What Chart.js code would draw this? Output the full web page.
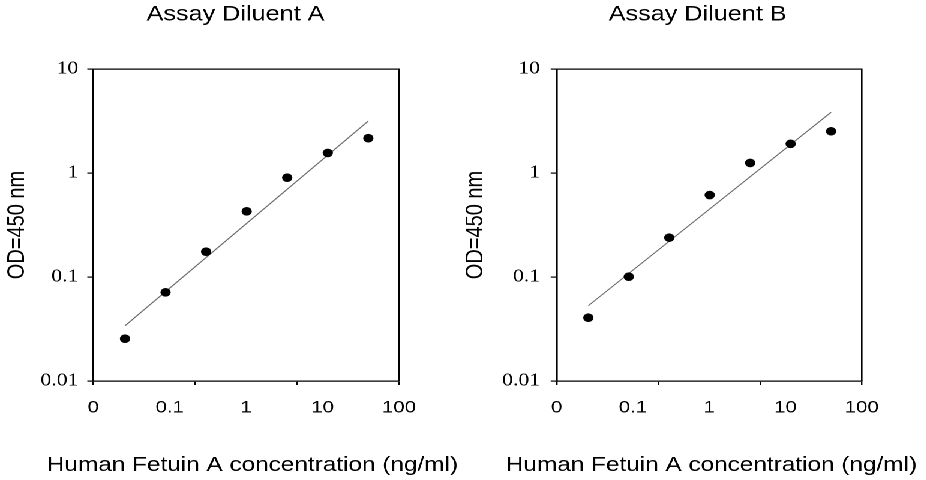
<!DOCTYPE html>
<html><head><meta charset="utf-8">
<script src="https://cdn.jsdelivr.net/npm/chart.js@4.4.1/dist/chart.umd.min.js"></script>
<style>
html,body{margin:0;padding:0;background:#fff;overflow:hidden;width:926px;height:480px;}
#wrap{position:absolute;left:0;top:0;width:772px;height:480px;transform:scaleX(1.2);transform-origin:0 0;}
canvas{position:absolute;top:0;}
</style></head><body>
<div id="wrap">
<canvas id="chartA" width="393" height="480" style="left:0;width:393px;height:480px"></canvas>
<canvas id="chartB" width="403" height="480" style="left:380px;width:403px;height:480px"></canvas>
</div>
<script>
const titles = ['Assay Diluent A', 'Assay Diluent B'];
const xAxisTitle = 'Human Fetuin A concentration (ng/ml)';
const yAxisTitle = 'OD=450 nm';
const concentrations = [0.2048, 0.512, 1.28, 3.2, 8, 20, 50];
const odDiluentA = [0.0255, 0.0713, 0.175, 0.428, 0.902, 1.56, 2.16];
const odDiluentB = [0.0406, 0.1007, 0.239, 0.614, 1.25, 1.91, 2.52];
const fitConc = [0.2048, 50];
const fitDiluentA = [0.034, 3.16];
const fitDiluentB = [0.053, 3.84];
const yTickValues = [0.01, 0.1, 1, 10];
const yTickLabels = ['0.01', '0.1', '1', '10'];
const xTickValues = [0.1, 1, 10, 100];
const xLabelValues = [0.01, 0.1, 1, 10, 100];
const xTickLabels = ['0', '0.1', '1', '10', '100'];

const SANS = '"Liberation Sans", Arial, sans-serif';
const SERIF = '"Liberation Serif", "Times New Roman", serif';
Chart.defaults.color = '#000';

function makeChart(id, title, od, fit, lay) {
  const pts = concentrations.map((c, i) => ({x: c, y: od[i]}));
  const line = fitConc.map((c, i) => ({x: c, y: fit[i]}));
  const axisBorder = {display: true, color: '#000', width: 1.3};
  return new Chart(document.getElementById(id), {
    type: 'scatter',
    data: {datasets: [
      {data: pts, pointBackgroundColor: '#000', pointBorderColor: '#000', pointBorderWidth: 0, pointRadius: 4.3, pointHoverRadius: 4.3, order: 1},
      {data: line, showLine: true, borderColor: '#6b6b6b', borderWidth: 1, pointRadius: 0, pointHoverRadius: 0, order: 2}
    ]},
    options: {
      responsive: false, animation: false, devicePixelRatio: 2,
      layout: {padding: {left: lay.padL, right: lay.padR, top: 0, bottom: 0}},
      events: [],
      plugins: {
        legend: {display: false},
        tooltip: {enabled: false},
        title: {display: true, text: title, color: '#000', align: 'center',
          font: {family: SANS, size: 21, weight: 'normal', lineHeight: 1.2},
          padding: {top: 2.1, bottom: 41.7}},
        subtitle: {display: true, position: 'bottom', align: 'end', text: xAxisTitle, color: '#000',
          font: {family: SANS, size: 20.3, weight: 'normal', lineHeight: 1.2},
          padding: {top: 0, bottom: 2.3}}
      },
      scales: {
        x: {type: 'logarithmic', position: 'bottom', min: 0.1, max: 100, weight: 0,
          afterBuildTicks: s => { s.ticks = xTickValues.map(v => ({value: v})); },
          afterFit: s => { s.height = 0; },
          ticks: {display: false},
          grid: {display: true, drawOnChartArea: false, drawTicks: true, tickLength: 4, color: '#000', lineWidth: 1.2},
          border: axisBorder},
        xl: {type: 'logarithmic', position: 'bottom', min: 0.01, max: 100, weight: 1,
          afterBuildTicks: s => { s.ticks = xLabelValues.map(v => ({value: v})); },
          afterFit: s => { s.height = 72.34; },
          ticks: {display: true, autoSkip: false, maxRotation: 0, minRotation: 0, padding: 16.8,
            color: '#000', font: {family: SANS, size: 17},
            callback: (v, i) => xTickLabels[i]},
          grid: {display: false, drawTicks: false},
          border: {display: false}},
        xt: {type: 'linear', position: 'top', min: 0, max: 1,
          afterFit: s => { s.height = 0; },
          ticks: {display: false}, grid: {display: false, drawTicks: false}, border: axisBorder},
        y: {type: 'logarithmic', position: 'left', min: 0.01, max: 10,
          afterBuildTicks: s => { s.ticks = yTickValues.map(v => ({value: v})); },
          afterFit: s => { s.width = lay.yWidth; },
          ticks: {padding: lay.yPad, color: '#000', font: {family: SERIF, size: 18},
            callback: (v, i) => yTickLabels[i]},
          grid: {display: true, drawOnChartArea: false, drawTicks: true, tickLength: 5, color: '#000', lineWidth: 1.2},
          border: axisBorder,
          title: {display: true, text: yAxisTitle, color: '#000',
            font: {family: SANS, size: 20, lineHeight: 1.2}, padding: {top: lay.yTitlePad, bottom: 0}}},
        yr: {type: 'linear', position: 'right', min: 0, max: 1,
          afterFit: s => { s.width = lay.rightWidth; },
          ticks: {display: false}, grid: {display: false, drawTicks: false}, border: axisBorder}
      }
    }
  });
}

makeChart('chartA', titles[0], odDiluentA, fitDiluentA,
  {padL: 10.8, padR: 11.3, yWidth: 66.95, yPad: 7.5, yTitlePad: -8.2, rightWidth: 49.2});
makeChart('chartB', titles[1], odDiluentB, fitDiluentB,
  {padL: 18.6, padR: 18.8, yWidth: 65.3, yPad: 8.9, yTitlePad: -14.1, rightWidth: 46.1});
</script>
</body></html>
